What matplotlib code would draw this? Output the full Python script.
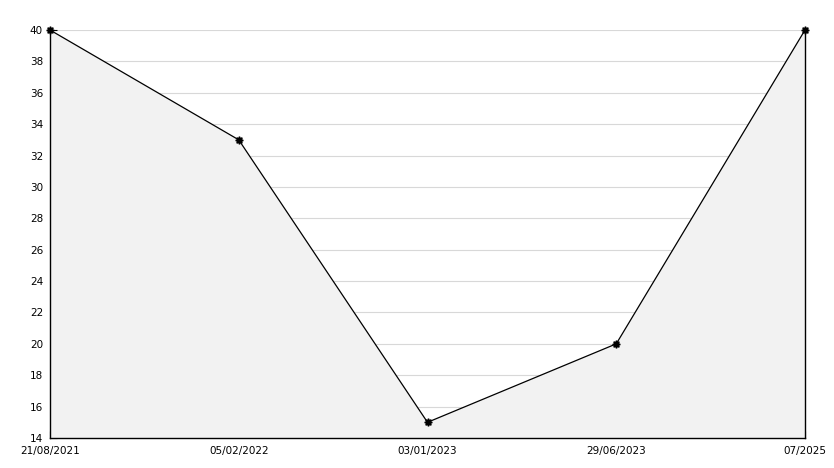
import matplotlib
matplotlib.use("Agg")
import matplotlib.pyplot as plt
from matplotlib.ticker import MultipleLocator

labels = ["21/08/2021", "05/02/2022", "03/01/2023", "29/06/2023", "07/2025"]
values = [40, 33, 15, 20, 40]

fig = plt.figure(figsize=(8.34, 4.68), dpi=100)
ax = fig.add_axes([50/834, 1-438/468, 755/834, 408/468])
x = list(range(len(labels)))
ymin, ymax = 14, 40

ax.fill_between(x, values, ymin, facecolor="#f2f2f2", edgecolor="none", zorder=2)
ax.plot(x, values, color="black", lw=0.9, zorder=3, clip_on=False)
ax.plot([x[-1], x[-1]], [ymin, values[-1]], color="black", lw=1.0, zorder=3, clip_on=False)
ax.plot(x, values, ls="none", marker=(8, 1, 0), ms=5.5, color="black", zorder=6, clip_on=False)

ax.set_xlim(x[0], x[-1])
ax.set_ylim(ymin, ymax)
ax.set_xticks(x)
ax.set_xticklabels(labels)
ax.yaxis.set_major_locator(MultipleLocator(2))
ax.yaxis.set_minor_locator(MultipleLocator(1))
ax.grid(axis="y", which="major", color="#d8d8d8", lw=0.8, zorder=1)
ax.set_axisbelow(True)
for s in ["top", "right"]:
    ax.spines[s].set_visible(False)
for s in ["left", "bottom"]:
    ax.spines[s].set_linewidth(1.0)
    ax.spines[s].set_zorder(5)
ax.tick_params(axis="y", which="major", direction="in", length=5, labelsize=7.5, pad=5)
ax.tick_params(axis="y", which="minor", direction="in", length=3)
ax.tick_params(axis="x", which="major", direction="in", length=5, labelsize=7.5, pad=6)
fig.savefig("out.png", dpi=100)
